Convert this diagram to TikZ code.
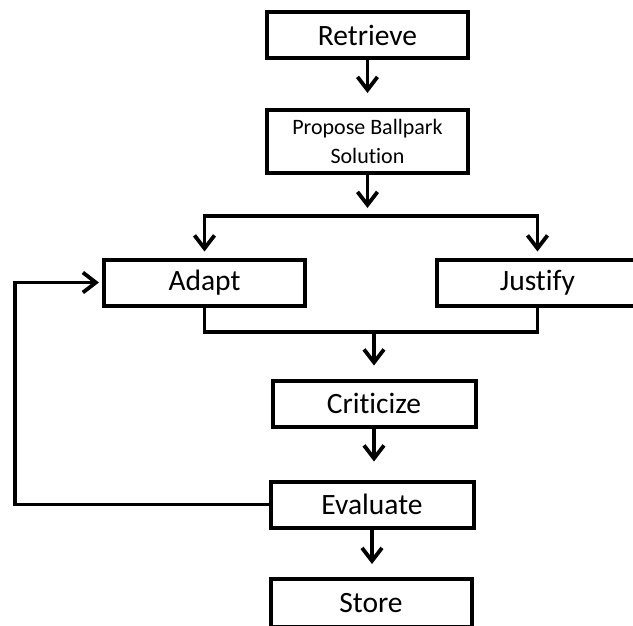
\documentclass[tikz,border=0pt]{standalone}
\usepackage{fontspec}
\setmainfont{Carlito}[RawFeature={-liga}]
\usetikzlibrary{arrows.meta}
\begin{document}
\begin{tikzpicture}[x=1pt,y=-1pt,
  box/.style={draw=black,line width=4pt,minimum width=201pt,minimum height=46pt,inner sep=0pt,font=\fontsize{29.5}{32}\selectfont},
  conn/.style={draw=black,line width=3.8pt},
  arr/.style={conn,-{Straight Barb[length=13pt,width=20pt]}}]
\useasboundingbox (0,0) rectangle (633,625);
\node[box] (ret) at (367.5,35) {Retrieve};
\node[box,minimum height=63pt,align=center,font=\fontsize{22}{29}\selectfont] (prop) at (367.5,141.5) {Propose Ballpark\\Solution};
\node[box,minimum width=201pt] (adapt) at (204.5,282.5) {Adapt};
\node[box,minimum width=201pt] (just) at (537.5,282.5) {Justify};
\node[box,minimum width=203pt] (crit) at (374,403.5) {Criticize};
\node[box,minimum width=203pt] (eval) at (372,504.5) {Evaluate};
\node[box,minimum width=201pt,minimum height=48pt] (store) at (371,603) {Store};
\coordinate (aL) at (204.5,216);
\coordinate (aR) at (537.5,216);
\coordinate (aM) at (367.5,216);
\coordinate (jL) at (204.5,332);
\coordinate (jR) at (537.5,332);
\coordinate (jM) at (374,332);
\coordinate (fb) at (15,400);
\draw[arr,shorten >=15pt] (ret.south) -- (prop.north);
\draw[arr,shorten >=8pt] (prop.south) -- (aM);
\draw[arr,shorten >=6pt] (aR) -- (aL) -- (adapt.north);
\draw[arr,shorten >=6pt] (aL) -- (aR) -- (just.north);
\draw[conn] (adapt.south) -- (jL) -- (jR) -- (just.south);
\draw[arr,shorten >=13pt] (jM) -- (crit.north);
\draw[arr,shorten >=18pt] (crit.south) -- (crit.south |- eval.north);
\draw[arr,shorten >=13pt] (eval.south) -- (eval.south |- store.north);
\draw[arr,shorten >=3pt] (eval.west) -| (fb) |- (adapt.west);
\end{tikzpicture}
\end{document}
